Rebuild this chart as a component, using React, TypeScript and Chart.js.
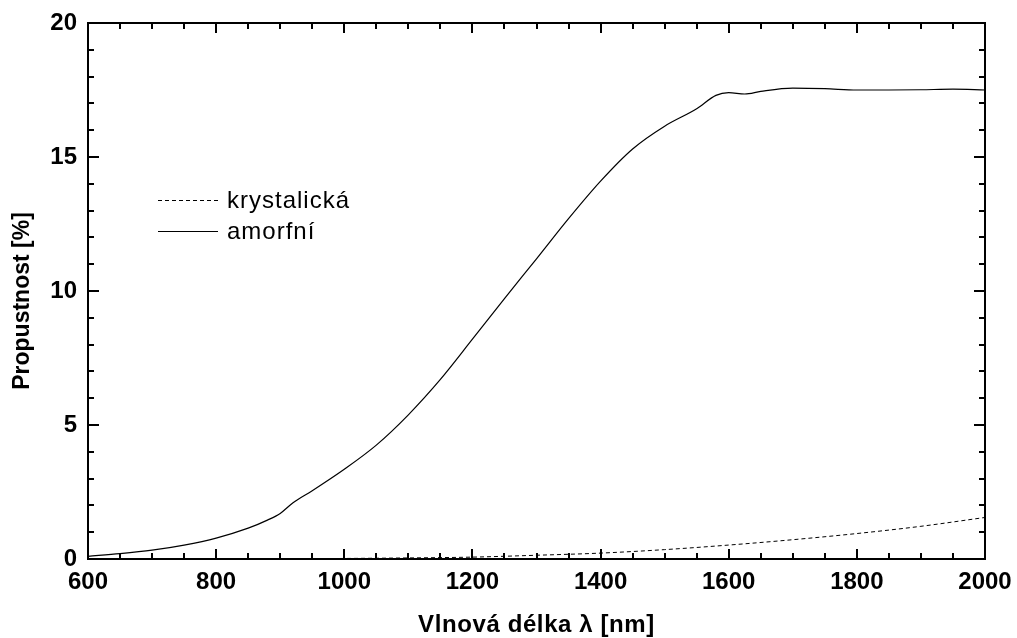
import React, { useEffect, useRef } from "react";
import { Chart, registerables } from "chart.js";

Chart.register(...registerables);

const amorfniX = [600, 650, 700, 750, 800, 850, 880, 900, 920, 950, 1000, 1050, 1100, 1150, 1200, 1250, 1300, 1350, 1400, 1450, 1500, 1550, 1580, 1600, 1625, 1650, 1700, 1750, 1800, 1850, 1900, 1950, 2000];
const amorfniY = [0.1, 0.2, 0.33, 0.52, 0.78, 1.15, 1.45, 1.7, 2.1, 2.55, 3.35, 4.25, 5.38, 6.7, 8.2, 9.72, 11.2, 12.7, 14.1, 15.3, 16.15, 16.8, 17.3, 17.4, 17.35, 17.45, 17.57, 17.55, 17.5, 17.5, 17.51, 17.53, 17.5];

const krystX = [600, 700, 800, 900, 1000, 1100, 1200, 1300, 1400, 1500, 1600, 1700, 1800, 1900, 2000];
const krystY = [0.0, 0.0, 0.0, 0.01, 0.02, 0.04, 0.07, 0.14, 0.22, 0.35, 0.52, 0.72, 0.95, 1.22, 1.55];

const xTicks = [600, 800, 1000, 1200, 1400, 1600, 1800, 2000];
const yTicks = [0, 5, 10, 15, 20];

const legendLabels = ["krystalická", "amorfní"];
const xTitle = "Vlnová délka λ [nm]";
const yTitle = "Propustnost [%]";

const FONT = "'Liberation Sans', Arial, Helvetica, sans-serif";

const framePlugin = {
  id: "frameTicks",
  afterDraw(chart: any) {
    const { ctx, chartArea } = chart;
    const xs = chart.scales.x;
    const ys = chart.scales.y;
    const { left, right, top, bottom } = chartArea;
    ctx.save();
    ctx.strokeStyle = "#000";
    ctx.lineWidth = 2;
    ctx.lineCap = "butt";
    ctx.beginPath();
    ctx.rect(left, top, right - left, bottom - top);
    ctx.stroke();
    for (let v = 600; v <= 2000; v += 50) {
      const px = Math.round(xs.getPixelForValue(v));
      const len = v % 200 === 0 ? 10 : 6;
      ctx.beginPath();
      ctx.moveTo(px, bottom);
      ctx.lineTo(px, bottom - len);
      ctx.moveTo(px, top);
      ctx.lineTo(px, top + len);
      ctx.stroke();
    }
    for (let v = 0; v <= 20; v += 1) {
      const py = Math.round(ys.getPixelForValue(v));
      const len = v % 5 === 0 ? 11 : 6;
      ctx.beginPath();
      ctx.moveTo(left, py);
      ctx.lineTo(left + len, py);
      ctx.moveTo(right, py);
      ctx.lineTo(right - len, py);
      ctx.stroke();
    }
    // legend
    ctx.lineWidth = 1;
    ctx.setLineDash([4, 3]);
    ctx.beginPath();
    ctx.moveTo(158, 200.5);
    ctx.lineTo(218, 200.5);
    ctx.stroke();
    ctx.setLineDash([]);
    ctx.beginPath();
    ctx.moveTo(158, 231.5);
    ctx.lineTo(218, 231.5);
    ctx.stroke();
    ctx.fillStyle = "#000";
    ctx.font = `24px ${FONT}`;
    (ctx as any).letterSpacing = "1px";
    ctx.textAlign = "left";
    ctx.textBaseline = "alphabetic";
    ctx.fillText(legendLabels[0], 227, 208);
    ctx.fillText(legendLabels[1], 227, 239);
    // axis titles
    ctx.font = `bold 24px ${FONT}`;
    (ctx as any).letterSpacing = "0.6px";
    ctx.textAlign = "center";
    ctx.fillText(xTitle, (left + right) / 2, 632);
    (ctx as any).letterSpacing = "0px";
    ctx.font = `bold 23px ${FONT}`;
    ctx.translate(29, 301);
    ctx.rotate(-Math.PI / 2);
    ctx.fillText(yTitle, 0, 0);
    ctx.restore();
  },
};

export default function App() {
  const ref = useRef<HTMLCanvasElement>(null);
  useEffect(() => {
    if (!ref.current) return;
    Chart.defaults.font.family = FONT;
    const chart = new Chart(ref.current, {
      type: "line",
      data: {
        datasets: [
          {
            label: legendLabels[0],
            data: krystX.map((x, i) => ({ x, y: krystY[i] })),
            borderColor: "#000",
            borderWidth: 1,
            borderDash: [4, 3],
            pointRadius: 0,
            cubicInterpolationMode: "monotone",
            fill: false,
          },
          {
            label: legendLabels[1],
            data: amorfniX.map((x, i) => ({ x, y: amorfniY[i] })),
            borderColor: "#000",
            borderWidth: 1.2,
            pointRadius: 0,
            cubicInterpolationMode: "monotone",
            fill: false,
          },
        ],
      },
      options: {
        animation: false,
        responsive: false,
        layout: { padding: { top: 23, right: 32, left: 0, bottom: 0 } },
        plugins: { legend: { display: false }, tooltip: { enabled: false } },
        scales: {
          x: {
            type: "linear",
            min: 600,
            max: 2000,
            afterBuildTicks: (s: any) => {
              s.ticks = xTicks.map((v) => ({ value: v }));
            },
            ticks: {
              color: "#000",
              font: { size: 24, weight: "bold", family: FONT },
              padding: 9,
              maxRotation: 0,
              callback: (v: any) => String(v),
            },
            grid: { display: false, drawTicks: false },
            border: { display: false },
            title: { display: false },
            afterFit: (s: any) => {
              s.height = 79;
              s.paddingLeft = 0;
              s.paddingRight = 0;
            },
          },
          y: {
            type: "linear",
            min: 0,
            max: 20,
            afterBuildTicks: (s: any) => {
              s.ticks = yTicks.map((v) => ({ value: v }));
            },
            ticks: {
              color: "#000",
              font: { size: 24, weight: "bold", family: FONT },
              padding: 11,
              callback: (v: any) => String(v),
            },
            grid: { display: false, drawTicks: false },
            border: { display: false },
            title: { display: false },
            afterFit: (s: any) => {
              s.width = 88;
              s.paddingTop = 0;
              s.paddingBottom = 0;
            },
          },
        },
      },
      plugins: [framePlugin],
    } as any);
    return () => chart.destroy();
  }, []);
  return (
    <div style={{ position: "fixed", left: 0, top: 0, width: 1017, height: 638, background: "#fff" }}>
      <canvas ref={ref} width={1017} height={638} style={{ display: "block" }} />
    </div>
  );
}
